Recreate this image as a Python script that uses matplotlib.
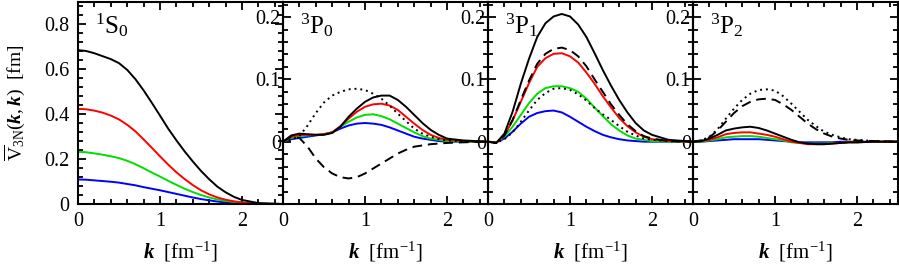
import matplotlib
matplotlib.use("Agg")
import matplotlib.pyplot as plt
from matplotlib.ticker import MultipleLocator

plt.rcParams['font.family'] = ['Liberation Serif', 'DejaVu Serif']
plt.rcParams['mathtext.fontset'] = 'custom'
plt.rcParams['mathtext.rm'] = 'Liberation Serif'
plt.rcParams['mathtext.it'] = 'Liberation Serif:italic'
plt.rcParams['mathtext.bf'] = 'Liberation Serif:bold'
plt.rcParams['mathtext.bfit'] = 'Liberation Serif:italic:bold'

# momentum grid (fm^-1)
k = [0.0, 0.1, 0.2, 0.3, 0.4, 0.5, 0.6, 0.7, 0.8, 0.9, 1.0, 1.1, 1.2, 1.3,
     1.4, 1.5, 1.6, 1.7, 1.8, 1.9, 2.0, 2.2, 2.5]

panel_names = [r'$^{1}\mathrm{S}_{0}$', r'$^{3}\mathrm{P}_{0}$',
               r'$^{3}\mathrm{P}_{1}$', r'$^{3}\mathrm{P}_{2}$']

# ---- 1S0 ----
s0_black = [0.684, 0.680, 0.670, 0.657, 0.644, 0.626, 0.596, 0.555, 0.505, 0.450, 0.393, 0.335,
            0.283, 0.234, 0.189, 0.147, 0.110, 0.077, 0.052, 0.032, 0.018, 0.004, 0.0]
s0_red = [0.423, 0.421, 0.415, 0.406, 0.393, 0.376, 0.352, 0.323, 0.287, 0.250, 0.212, 0.175,
          0.141, 0.111, 0.084, 0.061, 0.043, 0.029, 0.019, 0.012, 0.007, 0.001, 0.0]
s0_green = [0.232, 0.230, 0.225, 0.219, 0.212, 0.204, 0.192, 0.177, 0.159, 0.140, 0.122, 0.103,
            0.085, 0.068, 0.053, 0.040, 0.029, 0.020, 0.014, 0.009, 0.005, 0.001, 0.0]
s0_blue = [0.109, 0.108, 0.105, 0.102, 0.099, 0.095, 0.089, 0.083, 0.075, 0.068, 0.061, 0.053,
           0.045, 0.037, 0.029, 0.022, 0.016, 0.011, 0.007, 0.004, 0.002, 0.0, 0.0]

# ---- 3P0 ----
p0_black = [0.0, 0.010, 0.013, 0.012, 0.011, 0.011, 0.014, 0.024, 0.040, 0.053, 0.064, 0.071,
            0.074, 0.074, 0.067, 0.056, 0.043, 0.030, 0.019, 0.011, 0.005, 0.002, 0.0]
p0_red = [0.0, 0.008, 0.011, 0.011, 0.011, 0.012, 0.015, 0.025, 0.037, 0.048, 0.056, 0.060,
          0.061, 0.058, 0.051, 0.040, 0.029, 0.019, 0.011, 0.006, 0.003, 0.001, 0.0]
p0_green = [0.0, 0.006, 0.009, 0.010, 0.011, 0.012, 0.015, 0.024, 0.032, 0.039, 0.043, 0.044,
            0.041, 0.036, 0.029, 0.022, 0.015, 0.009, 0.005, 0.003, 0.001, 0.0, 0.0]
p0_blue = [0.0, 0.004, 0.006, 0.008, 0.010, 0.012, 0.015, 0.021, 0.026, 0.029, 0.030, 0.029,
           0.027, 0.023, 0.018, 0.013, 0.008, 0.005, 0.003, 0.001, 0.0, 0.0, 0.0]
p0_dotted = [0.0, 0.003, 0.009, 0.026, 0.046, 0.063, 0.074, 0.080, 0.084, 0.085, 0.083, 0.077,
             0.069, 0.058, 0.045, 0.033, 0.021, 0.013, 0.008, 0.004, 0.002, 0.001, 0.0]
p0_dashed = [0.0, 0.008, 0.006, -0.008, -0.027, -0.041, -0.051, -0.057, -0.059, -0.057, -0.051, -0.043,
             -0.035, -0.027, -0.019, -0.013, -0.008, -0.006, -0.004, -0.003, -0.002, -0.001, 0.0]

# ---- 3P1 ----
p1_black = [0.0, -0.002, 0.013, 0.048, 0.093, 0.133, 0.168, 0.190, 0.201, 0.205, 0.201, 0.188,
            0.168, 0.142, 0.115, 0.090, 0.067, 0.047, 0.030, 0.018, 0.011, 0.003, 0.0]
p1_dashed = [0.0, -0.002, 0.010, 0.035, 0.067, 0.098, 0.125, 0.141, 0.149, 0.151, 0.147, 0.137,
             0.121, 0.100, 0.080, 0.060, 0.043, 0.028, 0.017, 0.009, 0.005, 0.001, 0.0]
p1_red = [0.0, -0.002, 0.010, 0.034, 0.064, 0.094, 0.120, 0.134, 0.141, 0.142, 0.137, 0.127,
          0.111, 0.093, 0.073, 0.055, 0.038, 0.025, 0.015, 0.008, 0.004, 0.001, 0.0]
p1_green = [0.0, -0.001, 0.008, 0.024, 0.043, 0.062, 0.077, 0.086, 0.089, 0.089, 0.086, 0.080,
            0.069, 0.055, 0.041, 0.028, 0.018, 0.010, 0.005, 0.003, 0.001, 0.0, 0.0]
p1_dotted = [0.0, -0.002, 0.004, 0.015, 0.032, 0.050, 0.067, 0.078, 0.085, 0.086, 0.083, 0.076,
             0.066, 0.054, 0.044, 0.035, 0.025, 0.016, 0.010, 0.005, 0.003, 0.001, 0.0]
p1_blue = [0.0, -0.001, 0.005, 0.016, 0.029, 0.040, 0.046, 0.049, 0.050, 0.047, 0.040, 0.032,
           0.024, 0.017, 0.011, 0.007, 0.004, 0.002, 0.001, 0.0, 0.0, 0.0, 0.0]

# ---- 3P2 ----
p2_dotted = [0.0, 0.002, 0.008, 0.020, 0.037, 0.053, 0.067, 0.077, 0.083, 0.084, 0.082, 0.073,
             0.061, 0.048, 0.035, 0.025, 0.016, 0.011, 0.007, 0.004, 0.003, 0.001, 0.0]
p2_dashed = [0.0, 0.002, 0.007, 0.018, 0.032, 0.046, 0.057, 0.064, 0.068, 0.069, 0.067, 0.060,
             0.051, 0.040, 0.029, 0.020, 0.013, 0.008, 0.005, 0.003, 0.002, 0.001, 0.0]
p2_black = [0.0, 0.001, 0.005, 0.011, 0.018, 0.021, 0.023, 0.024, 0.022, 0.018, 0.013, 0.008,
            0.003, -0.001, -0.003, -0.004, -0.004, -0.003, -0.002, -0.001, -0.001, 0.0, 0.0]
p2_red = [0.0, 0.001, 0.003, 0.007, 0.012, 0.014, 0.015, 0.015, 0.013, 0.011, 0.008, 0.004,
          0.0, -0.002, -0.004, -0.004, -0.004, -0.003, -0.002, -0.001, -0.001, 0.0, 0.0]
p2_green = [0.0, 0.0, 0.002, 0.004, 0.007, 0.008, 0.009, 0.009, 0.008, 0.006, 0.004, 0.002,
            -0.001, -0.002, -0.003, -0.003, -0.003, -0.002, -0.002, -0.001, -0.001, 0.0, 0.0]
p2_blue = [0.0, 0.0, 0.001, 0.002, 0.003, 0.004, 0.004, 0.004, 0.004, 0.003, 0.002, 0.001,
           0.0, -0.001, -0.001, -0.001, -0.001, -0.001, 0.0, 0.0, 0.0, 0.0, 0.0]

BLUE, GREEN, RED, BLACK = '#0000ff', '#00dd00', '#ff0000', '#000000'
DOT = (0, (1, 2))
DASH = (0, (5, 3))

panels = [
    [(s0_blue, BLUE, '-'), (s0_green, GREEN, '-'), (s0_red, RED, '-'), (s0_black, BLACK, '-')],
    [(p0_blue, BLUE, '-'), (p0_green, GREEN, '-'), (p0_red, RED, '-'), (p0_black, BLACK, '-'),
     (p0_dashed, BLACK, DASH), (p0_dotted, BLACK, DOT)],
    [(p1_blue, BLUE, '-'), (p1_green, GREEN, '-'), (p1_red, RED, '-'), (p1_black, BLACK, '-'),
     (p1_dashed, BLACK, DASH), (p1_dotted, BLACK, DOT)],
    [(p2_blue, BLUE, '-'), (p2_green, GREEN, '-'), (p2_red, RED, '-'), (p2_black, BLACK, '-'),
     (p2_dashed, BLACK, DASH), (p2_dotted, BLACK, DOT)],
]

W, H = 899, 269
fig = plt.figure(figsize=(W / 100, H / 100), dpi=100)
lefts = [78, 283, 488, 693]
pw = 205
bottom_px, top_px = 204, 1.5
FS = 14.5

for i, (left, curves) in enumerate(zip(lefts, panels)):
    ax = fig.add_axes([left / W, 1 - bottom_px / H, pw / W, (bottom_px - top_px) / H])
    for ys, c, ls in curves:
        ax.plot(k, ys, color=c, linestyle=ls, lw=1.4, solid_capstyle='round')
    ax.set_xlim(0, 2.5)
    ax.xaxis.set_major_locator(MultipleLocator(1))
    ax.xaxis.set_minor_locator(MultipleLocator(0.2))
    if i == 0:
        ax.set_ylim(0, 0.9)
        ax.yaxis.set_major_locator(MultipleLocator(0.2))
        ax.yaxis.set_minor_locator(MultipleLocator(0.04))
        ax.set_yticks([0, 0.2, 0.4, 0.6, 0.8])
        ax.set_yticklabels(['0', '0.2', '0.4', '0.6', '0.8'])
        ypad = 6
    else:
        ax.set_ylim(-0.1, 0.225)
        ax.yaxis.set_major_locator(MultipleLocator(0.1))
        ax.yaxis.set_minor_locator(MultipleLocator(0.02))
        ax.set_yticks([-0.1, 0, 0.1, 0.2])
        ax.set_yticklabels(['', '0', '0.1', '0.2'])
        ypad = 1.5
    ax.set_xticks([0, 1, 2])
    ax.set_xticklabels(['0', '1', '2'])
    ax.tick_params(which='both', direction='in', top=True, right=True, width=1.3)
    ax.tick_params(which='major', length=5.5)
    ax.tick_params(which='minor', length=3.5)
    ax.tick_params(axis='y', which='major', pad=ypad, labelsize=FS)
    ax.tick_params(axis='x', which='major', pad=6, labelsize=FS)
    for sp in ax.spines.values():
        sp.set_linewidth(1.5)
    ax.set_xlabel(r'$\mathbfit{k}$  [fm$^{\mathrm{-1}}$]', fontsize=FS + 0.5, labelpad=6)
    ax.text(0.085, 0.955, panel_names[i], transform=ax.transAxes, fontsize=18,
            ha='left', va='top')
    if i == 0:
        ax.set_ylabel(r'$\overline{\mathrm{V}}_{3\mathrm{N}}(\mathbfit{k},\mathbfit{k})$  [fm]',
                      fontsize=14)
        ax.yaxis.set_label_coords(-0.25, 0.5)
    ax.set_zorder(10 - i)
    ax.patch.set_alpha(0)

fig.savefig('out.png', dpi=100)
